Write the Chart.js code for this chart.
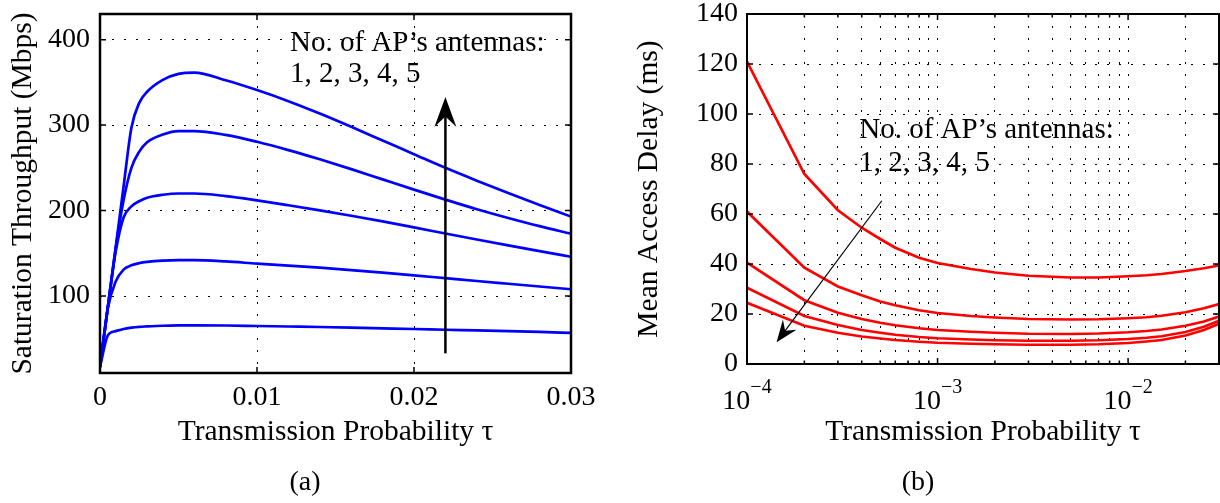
<!DOCTYPE html>
<html>
<head>
<meta charset="utf-8">
<script src="https://cdn.jsdelivr.net/npm/chart.js@4.4.0/dist/chart.umd.min.js"></script>
<style>
  html, body { margin: 0; padding: 0; background: #fff; }
  #wrap { position: relative; width: 1220px; height: 503px; }
  canvas { position: absolute; top: 0; }
  #chartA { left: 0; }
  #chartB { left: 610px; }
</style>
</head>
<body>
<div id="wrap">
  <canvas id="chartA" width="610" height="503"></canvas>
  <canvas id="chartB" width="610" height="503"></canvas>
</div>
<script>
// (a) saturation throughput (Mbps) vs transmission probability, 1..5 antennas
const tauA = [0, 0.0005, 0.001, 0.0015, 0.002, 0.0025, 0.003, 0.004, 0.005, 0.006, 0.008,
              0.01, 0.012, 0.014, 0.016, 0.018, 0.02, 0.022, 0.024, 0.026, 0.028, 0.03];
const thr1 = [17, 54, 59, 61.5, 63, 64, 64.5, 65.3, 65.7, 65.8, 65.6, 65, 64.4, 63.8, 63.1, 62.3, 61.5, 60.6, 59.8, 58.9, 58, 57];
const thr2 = [17, 86, 117, 131, 136, 138.5, 140, 141.5, 142, 142, 140.5, 138, 135.7, 133.2, 130.4, 127.4, 124.2, 120.9, 117.6, 114.4, 111.2, 108];
const thr3 = [17, 87, 152, 192, 205, 211, 215, 218.5, 220, 220, 217, 212, 206.3, 200.3, 194, 187.3, 180.3, 173.2, 166.2, 159.3, 152.6, 146];
const thr4 = [17, 87, 156, 212, 250, 269, 280, 289, 293, 293, 288.5, 280.5, 270.8, 260, 248.5, 236.5, 224.5, 212.8, 201.6, 191.4, 181.8, 173];
const thr5 = [17, 87, 157, 228, 297, 326, 339, 353, 360, 361.5, 352.5, 341, 328, 313.5, 298, 282, 266, 250, 235, 220.5, 206.5, 193];
const xTicksA = [0, 0.01, 0.02, 0.03];
const yTicksA = [100, 200, 300, 400];

// (b) mean access delay (ms) vs transmission probability (log axis)
const tauB = [1e-4, 2e-4, 3e-4, 4e-4, 5e-4, 6e-4, 8e-4, 1e-3, 1.5e-3, 2e-3, 3e-3, 5e-3, 7e-3,
              1e-2, 1.25e-2, 1.5e-2, 2e-2, 2.5e-2, 3e-2];
const delay1 = [121, 76, 61.5, 54.5, 50, 46.5, 42.5, 40.4, 38, 36.6, 35.3, 34.6, 34.6, 35.1, 35.5, 36, 37.2, 38.3, 39.4];
const delay2 = [61, 38.5, 31, 27.5, 25, 23.5, 21.5, 20.4, 19.2, 18.6, 18, 17.8, 17.9, 18.3, 18.7, 19.3, 20.7, 22.3, 24];
const delay3 = [40.5, 25.5, 20.5, 18, 16.5, 15.5, 14.3, 13.6, 12.9, 12.5, 12.1, 12, 12.2, 12.7, 13.2, 13.8, 15.3, 17, 19];
const delay4 = [30.5, 19.2, 15.6, 13.6, 12.5, 11.7, 10.8, 10.3, 9.8, 9.5, 9.3, 9.3, 9.5, 10, 10.5, 11.1, 12.8, 14.9, 17.3];
const delay5 = [24.5, 15.3, 12.5, 11, 10.2, 9.6, 8.9, 8.5, 8.1, 7.9, 7.7, 7.7, 7.9, 8.4, 9, 9.6, 11.4, 13.6, 16.1];
const xTicksB = [1e-4, 2e-4, 3e-4, 4e-4, 5e-4, 6e-4, 7e-4, 8e-4, 9e-4,
                 1e-3, 2e-3, 3e-3, 4e-3, 5e-3, 6e-3, 7e-3, 8e-3, 9e-3, 1e-2, 2e-2, 3e-2];
const xExpB = [-4, null, null, null, null, null, null, null, null,
               -3, null, null, null, null, null, null, null, null, -2, null, null];
const yTicksB = [0, 20, 40, 60, 80, 100, 120, 140];

const serif = "'Liberation Serif', 'Times New Roman', serif";
Chart.defaults.color = '#000';
Chart.defaults.font.family = serif;

function toPoints(xs, ys) {
  return xs.map((x, i) => ({ x: x, y: ys[i] }));
}

function drawArrow(ctx, x0, y0, x1, y1, headW, headL, lw) {
  const ang = Math.atan2(y1 - y0, x1 - x0);
  ctx.lineWidth = lw;
  ctx.beginPath();
  ctx.moveTo(x0, y0);
  ctx.lineTo(x1 - Math.cos(ang) * headL * 0.6, y1 - Math.sin(ang) * headL * 0.6);
  ctx.stroke();
  ctx.save();
  ctx.translate(x1, y1);
  ctx.rotate(ang);
  ctx.beginPath();
  ctx.moveTo(0, 0);
  ctx.lineTo(-headL, -headW / 2);
  ctx.lineTo(-headL * 0.65, 0);
  ctx.lineTo(-headL, headW / 2);
  ctx.closePath();
  ctx.fill();
  ctx.restore();
}

// box round the axes with inward ticks, annotation text + arrow,
// power-of-ten labels, sub-caption
const extras = {
  id: 'extras',
  afterDatasetsDraw(chart, args, o) {
    const { ctx, chartArea: a, scales } = chart;
    const sx = scales.x, sy = scales.y;
    ctx.save();
    ctx.strokeStyle = '#000';
    ctx.fillStyle = '#000';

    // inward tick marks, MATLAB style
    ctx.lineWidth = 1.5;
    ctx.beginPath();
    sy.ticks.forEach(t => {
      const py = sy.getPixelForValue(t.value);
      ctx.moveTo(a.left, py); ctx.lineTo(a.left + 6, py);
      ctx.moveTo(a.right, py); ctx.lineTo(a.right - 6, py);
    });
    sx.ticks.forEach((t, i) => {
      const px = sx.getPixelForValue(t.value);
      const len = (o.powers && o.powers[i] === null) ? 3.5 : 6;
      ctx.moveTo(px, a.bottom); ctx.lineTo(px, a.bottom - len);
      ctx.moveTo(px, a.top); ctx.lineTo(px, a.top + len);
    });
    ctx.stroke();

    ctx.lineWidth = o.frameWidth;
    ctx.strokeRect(a.left, a.top, a.right - a.left, a.bottom - a.top);

    ctx.font = '29px ' + serif;
    ctx.textAlign = 'left';
    ctx.textBaseline = 'alphabetic';
    const tx = sx.getPixelForValue(o.text.x);
    ctx.fillText('No. of AP’s antennas:', tx, sy.getPixelForValue(o.text.y1));
    ctx.fillText('1, 2, 3, 4, 5', tx, sy.getPixelForValue(o.text.y2));

    drawArrow(ctx,
      sx.getPixelForValue(o.arrow.x0), sy.getPixelForValue(o.arrow.y0),
      sx.getPixelForValue(o.arrow.x1), sy.getPixelForValue(o.arrow.y1),
      o.arrow.headW, o.arrow.headL, o.arrow.lw);

    if (o.powers) {
      sx.ticks.forEach((t, i) => {
        const e = o.powers[i];
        if (e === null || e === undefined) return;
        const px = sx.getPixelForValue(t.value);
        ctx.font = '28px ' + serif;
        const wBase = ctx.measureText('10').width;
        const expText = '−' + Math.abs(e);
        ctx.font = '20px ' + serif;
        const wExp = ctx.measureText(expText).width;
        const left = px - (wBase + wExp) / 2;
        ctx.textAlign = 'left';
        ctx.textBaseline = 'alphabetic';
        ctx.font = '28px ' + serif;
        ctx.fillText('10', left, a.bottom + 45);
        ctx.font = '20px ' + serif;
        ctx.fillText(expText, left + wBase, a.bottom + 29);
      });
    }

    ctx.font = '28px ' + serif;
    ctx.textAlign = 'center';
    ctx.textBaseline = 'middle';
    ctx.fillText(o.caption, o.captionX, 483);
    ctx.restore();
  }
};

function lineSet(data, color) {
  return { data: data, borderColor: color, borderWidth: 2.7, pointRadius: 0, tension: 0, fill: false };
}

function fixY(width) {
  return s => { s.width = width; s.paddingTop = 0; s.paddingBottom = 0; };
}
function fixX(height) {
  return s => { s.height = height; s.paddingLeft = 0; s.paddingRight = 0; };
}

const tickFont = { size: 28, family: serif, lineHeight: 1 };
const titleFont = { size: 29.5, family: serif };
const dots = [2, 10];

// ---- chart (a)
new Chart(document.getElementById('chartA'), {
  type: 'line',
  data: {
    datasets: [thr1, thr2, thr3, thr4, thr5].map(s => {
      const d = lineSet(toPoints(tauA, s), 'rgb(0,0,255)');
      d.cubicInterpolationMode = 'monotone';
      return d;
    })
  },
  options: {
    responsive: false,
    animation: false,
    layout: { padding: { top: 14, right: 39, left: 0, bottom: 0 } },
    plugins: {
      legend: { display: false },
      tooltip: { enabled: false },
      extras: {
        frameWidth: 2.5,
        text: { x: 0.0121, y1: 387, y2: 350 },
        arrow: { x0: 0.022, y0: 33, x1: 0.022, y1: 333, headW: 22, headL: 30, lw: 2.5 },
        caption: '(a)', captionX: 305
      }
    },
    scales: {
      x: {
        type: 'linear', min: 0, max: 0.03,
        afterBuildTicks: s => { s.ticks = xTicksA.map(v => ({ value: v })); },
        afterFit: fixX(130),
        ticks: { font: { size: 28, family: serif }, padding: 8, maxRotation: 0, autoSkip: false },
        grid: { color: '#000', lineWidth: 1, drawTicks: false },
        border: { display: false, dash: dots },
        title: { display: true, text: 'Transmission Probability τ', font: titleFont, padding: { top: 0, bottom: 53 } }
      },
      y: {
        type: 'linear', min: 10, max: 430,
        afterBuildTicks: s => { s.ticks = yTicksA.map(v => ({ value: v })); },
        afterFit: fixY(100),
        ticks: { font: tickFont, padding: 10 },
        grid: { color: '#000', lineWidth: 1, drawTicks: false },
        border: { display: false, dash: dots },
        title: { display: true, text: 'Saturation Throughput (Mbps)', font: titleFont, padding: { top: 6, bottom: 0 } }
      }
    }
  },
  plugins: [extras]
});

// ---- chart (b)
new Chart(document.getElementById('chartB'), {
  type: 'line',
  data: {
    datasets: [delay1, delay2, delay3, delay4, delay5].map(s => lineSet(toPoints(tauB, s), 'rgb(255,0,0)'))
  },
  options: {
    responsive: false,
    animation: false,
    layout: { padding: { top: 14, right: 1, left: 0, bottom: 0 } },
    plugins: {
      legend: { display: false },
      tooltip: { enabled: false },
      extras: {
        frameWidth: 2,
        text: { x: 3.88e-4, y1: 90.4, y2: 77.4 },
        arrow: { x0: 5.1e-4, y0: 65.3, x1: 1.43e-4, y1: 8.7, headW: 17, headL: 22, lw: 1.2 },
        powers: xExpB,
        caption: '(b)', captionX: 308
      }
    },
    scales: {
      x: {
        type: 'logarithmic', min: 1e-4, max: 0.03,
        afterBuildTicks: s => { s.ticks = xTicksB.map(v => ({ value: v })); },
        afterFit: fixX(139),
        ticks: { font: { size: 28, family: serif }, maxRotation: 0, autoSkip: false, callback: () => '' },
        grid: { color: '#000', lineWidth: 1, drawTicks: false },
        border: { display: false, dash: dots },
        title: { display: true, text: 'Transmission Probability τ', font: titleFont, padding: { top: 0, bottom: 53 } }
      },
      y: {
        type: 'linear', min: 0, max: 140,
        afterBuildTicks: s => { s.ticks = yTicksB.map(v => ({ value: v })); },
        afterFit: fixY(137),
        ticks: { font: tickFont, padding: 9 },
        grid: { color: '#000', lineWidth: 1, drawTicks: false },
        border: { display: false, dash: dots },
        title: { display: true, text: 'Mean Access Delay (ms)', font: titleFont, padding: { top: 22, bottom: 0 } }
      }
    }
  },
  plugins: [extras]
});
</script>
</body>
</html>
